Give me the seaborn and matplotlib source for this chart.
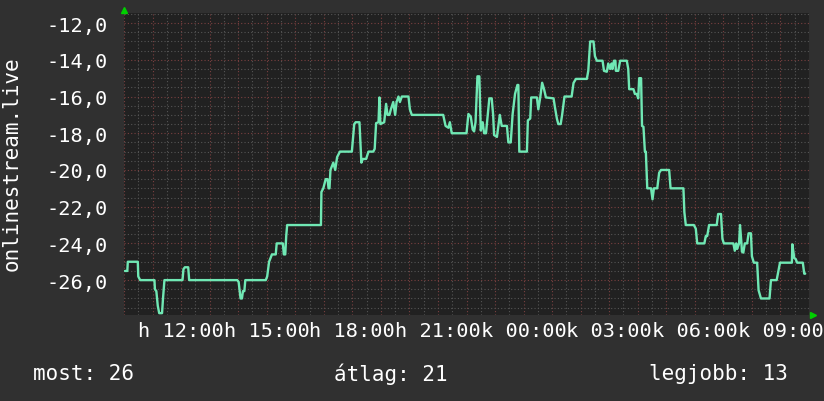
import numpy as np
import pandas as pd
import matplotlib
matplotlib.use("Agg")
import matplotlib.pyplot as plt
import seaborn as sns
from matplotlib.ticker import MultipleLocator, FuncFormatter

# minutes since 10:00 (monday) and the measured value
minutes = [2, 7, 8, 29, 30, 34, 64, 65, 68, 71, 74, 80, 82, 85, 123, 125, 128, 135, 137,
           238, 241, 245, 248, 250, 253, 255, 298, 301, 305, 311, 319, 321, 334, 336, 339,
           341, 343, 414, 415, 419, 424, 428, 430, 432, 434, 440, 444, 448, 454, 479, 484,
           487, 495, 499, 502, 509, 514, 524, 527, 530, 535, 537, 539, 547, 551, 554, 558,
           561, 566, 570, 573, 577, 580, 584, 598, 601, 605, 671, 676, 682, 685, 689, 720,
           724, 729, 733, 736, 739, 743, 747, 750, 754, 757, 761, 764, 768, 773, 776, 778,
           784, 787, 790, 794, 805, 808, 813, 817, 822, 827, 829, 831, 847, 849, 854, 856,
           868, 871, 875, 879, 883, 887, 903, 906, 910, 913, 918, 921, 926, 941, 945, 950,
           973, 976, 980, 987, 990, 994, 1006, 1009, 1015, 1018, 1022, 1025, 1027, 1030,
           1033, 1034, 1039, 1043, 1057, 1060, 1062, 1071, 1074, 1078, 1081, 1083, 1087,
           1089, 1092, 1095, 1097, 1100, 1108, 1111, 1114, 1121, 1125, 1129, 1146, 1149,
           1176, 1178, 1181, 1198, 1202, 1205, 1220, 1223, 1226, 1230, 1246, 1249, 1255,
           1258, 1261, 1281, 1284, 1287, 1289, 1293, 1295, 1298, 1299, 1302, 1305, 1310,
           1313, 1318, 1320, 1324, 1331, 1334, 1339, 1357, 1360, 1372, 1375, 1379, 1404,
           1405, 1409, 1412, 1415, 1427, 1430, 1432]
values = [-25.5, -25.5, -25.0, -25.0, -25.8, -26.0, -26.0, -26.5, -26.6, -27.4, -27.8, -27.8,
          -27.0, -26.0, -26.0, -25.4, -25.3, -25.3, -26.0,
          -26.0, -26.1, -27.0, -27.0, -26.6, -26.6, -26.0, -26.0, -25.8, -25.0, -24.6, -24.6,
          -24.0, -24.0, -24.6, -24.6, -23.6, -23.0, -23.0, -21.2, -21.0, -20.5, -20.5, -21.0,
          -21.0, -20.0, -19.6, -20.0, -19.3, -19.0, -19.0, -17.5, -17.4, -17.4, -19.6, -19.4,
          -19.4, -19.0, -19.0, -18.85, -17.45, -17.4, -16.05, -17.5, -17.4, -16.4, -17.0, -17.0,
          -16.7, -16.3, -17.0, -16.3, -16.0, -16.3, -16.0, -16.0, -16.7, -17.0, -17.0, -17.6,
          -17.7, -17.4, -18.0, -18.0, -16.95, -17.1, -17.8, -17.9, -17.4, -14.9, -14.9, -17.85,
          -17.4, -18.0, -18.0, -17.2, -16.1, -16.1, -17.0, -18.1, -18.2, -17.6, -17.0, -17.6,
          -17.6, -18.5, -18.5, -16.95, -15.86, -15.37, -15.37, -19.0, -19.0, -17.3, -17.2,
          -16.05, -16.05, -16.7, -16.05, -15.25, -15.6, -16.05, -16.1, -16.6, -17.2, -17.5,
          -17.5, -17.0, -16.0, -16.0, -15.26, -15.04, -15.04, -14.6, -13.0, -13.0, -13.8,
          -14.05, -14.05, -14.6, -14.65, -14.2, -14.5, -14.2, -14.5, -14.05, -14.05, -14.6,
          -14.6, -14.05, -14.05, -14.5, -15.6, -15.6, -15.86, -15.86, -16.1, -15.0, -15.0,
          -17.6, -17.65, -19.0, -19.0, -21.0, -21.0, -21.6, -21.0, -21.0, -20.15, -20.0, -20.0,
          -21.0, -21.0, -22.3, -23.0, -23.0, -23.2, -24.0, -24.0, -23.6, -23.6, -23.0, -23.0,
          -22.4, -22.4, -23.75, -24.0, -24.0, -24.4, -24.0, -24.3, -24.0, -23.0, -24.0, -24.45,
          -24.5, -24.0, -24.0, -23.45, -23.45, -24.7, -25.05, -25.05, -26.55, -27.0, -27.0,
          -26.0, -26.0, -25.6, -25.05, -25.05, -24.05, -24.8, -24.85, -25.05, -25.05, -25.65,
          -25.65]

x_tick_pos = [120, 300, 480, 660, 840, 1020, 1200, 1380]
x_tick_labels = ["h 12:00", "h 15:00", "h 18:00", "h 21:00",
                 "k 00:00", "k 03:00", "k 06:00", "k 09:00"]
y_label = "onlinestream.live"
summary = ["most: 26", "átlag: 21", "legjobb: 13"]

df = pd.DataFrame({"perc": minutes, "ertek": values})

FIG_BG = "#303030"
AX_BG = "#212121"
LINE = "#70e8b4"
MINOR = "#555555"
MAJOR = "#7a4040"

sns.set_style("dark")
plt.rcParams["font.family"] = ["DejaVu Sans Mono"]

fig = plt.figure(figsize=(8.24, 4.02), dpi=100, facecolor=FIG_BG)
ax = fig.add_axes([124 / 824, 1 - 316 / 402, 685 / 824, 302 / 402])
ax.set_facecolor(AX_BG)

# grid: red every hour / 2 units, grey every half hour / half unit
ax.xaxis.set_major_locator(MultipleLocator(60))
ax.xaxis.set_minor_locator(MultipleLocator(30))
ax.yaxis.set_major_locator(MultipleLocator(2))
ax.yaxis.set_minor_locator(MultipleLocator(0.5))
ax.grid(which="minor", color=MINOR, linestyle=(0, (1, 2)), linewidth=0.8)
ax.grid(which="major", color=MAJOR, linestyle=(0, (1, 2)), linewidth=0.8)
ax.set_axisbelow(True)

sns.lineplot(data=df, x="perc", y="ertek", ax=ax, color=LINE, linewidth=1.7,
             estimator=None, sort=False)

ax.set_xlim(0, 1440)
ax.set_ylim(-27.9, -11.45)

# time labels (they overlap a bit, like in rrdtool)
ax.set_xticklabels([])
for pos, lab in zip(x_tick_pos, x_tick_labels):
    ax.text(pos, -28.2, lab, ha="center", va="top", fontsize=14.6, color="white")

ax.yaxis.set_major_formatter(FuncFormatter(lambda v, p: f"{v:.1f}".replace(".", ",")))
ax.tick_params(axis="y", which="major", labelsize=14.6, labelcolor="white",
               length=0, pad=11.5)
ax.tick_params(axis="x", which="major", length=3, color=MAJOR, pad=0)
ax.tick_params(axis="x", which="minor", length=2, color=MINOR)
ax.tick_params(axis="y", which="minor", length=0)
for s in ax.spines.values():
    s.set_visible(False)
ax.set_xlabel("")
ax.set_ylabel("")

# little green arrows at the axis ends
ax.plot([0], [1.01], marker="^", color="#00d000", markersize=5,
        transform=ax.transAxes, clip_on=False)
ax.plot([1.006], [0], marker=">", color="#00d000", markersize=5,
        transform=ax.transAxes, clip_on=False)

fig.text(12 / 824, 1 - 164 / 402, y_label, rotation=90, ha="center", va="center",
         fontsize=15, color="white")
fig.text(33 / 824, 1 - 374 / 402, summary[0], ha="left", va="center", fontsize=15, color="white")
fig.text(334 / 824, 1 - 374 / 402, summary[1], ha="left", va="center", fontsize=15, color="white")
fig.text(649 / 824, 1 - 374 / 402, summary[2], ha="left", va="center", fontsize=15, color="white")

fig.savefig("out.png", dpi=100, facecolor=FIG_BG)
